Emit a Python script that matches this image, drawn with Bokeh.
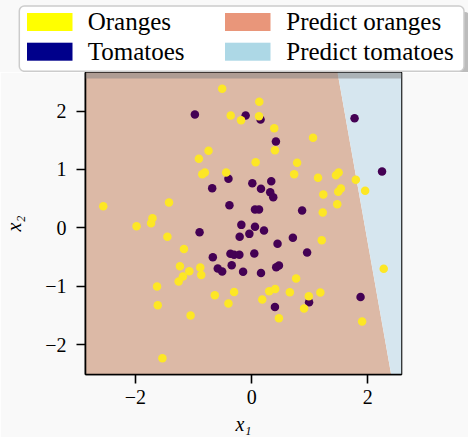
import numpy as np
from bokeh.plotting import figure
from bokeh.layouts import column
from bokeh.models import Range1d, BoxAnnotation, FixedTicker, Div
from bokeh.embed import file_html
from bokeh.resources import INLINE

# ---- data ----
oranges_x1 = [-0.507, -0.360, -0.182, -0.742, -0.908, -0.439, -0.805, -0.850, -2.554, -1.422,
              -1.707, -1.731, -1.981, 0.132, 0.127, 0.389, 1.057, 0.401, 0.069, 0.783,
              0.732, 1.143, 1.498, 1.452, 1.794, 1.954, 1.537, 1.491, 1.234, 1.474,
              1.224, -1.450, -1.165, -1.234, -0.884, -1.073, -1.183, -0.867, -1.256, -1.628,
              -0.634, -0.302, -0.399, -1.616, -1.051, -1.536, 1.207, 2.274, 0.766, 0.303,
              0.406, 0.658, 1.183, 0.984, 0.183, 0.903, 0.470, 1.902]
oranges_x2 = [2.380, 1.923, 1.842, 1.318, 1.182, 0.947, 0.947, 0.918, 0.370, 0.433,
              0.164, 0.079, 0.027, 2.158, 1.911, 1.705, 1.541, 1.329, 1.123, 1.113,
              0.918, 0.856, 0.947, 0.901, 0.822, 0.634, 0.673, 0.616, 0.570, 0.404,
              0.262, -0.154, -0.360, -0.658, -0.680, -0.743, -0.834, -0.805, -0.920, -1.005,
              -1.154, -1.096, -1.296, -1.325, -1.502, -2.233, -0.212, -0.702, -0.868, -1.086,
              -1.045, -1.103, -1.108, -1.171, -1.228, -1.382, -1.548, -1.604]
tomatoes_x1 = [-0.977, -0.103, 0.154, -0.399, -0.679, 0.012, -0.382, -0.177, -0.896, 1.772,
               0.418, 0.338, 0.161, 0.320, 0.372, 2.245, 0.869, 0.058, 0.127, 0.058,
               0.213, -0.206, -0.039, -0.668, -0.365, -0.302, -0.211, -0.583, -0.507, -0.343,
               -0.147, 0.710, 0.446, 0.955, 0.046, 0.470, 0.423, 0.161, 0.989, 1.875, 0.401]
tomatoes_x2 = [1.940, 1.923, 1.854, 0.839, 0.678, 0.764, 0.387, 0.051, -0.075, 1.877,
               1.478, 0.798, 0.668, 0.610, 0.524, 0.964, 0.296, 0.313, 0.313, 0.017,
               -0.046, -0.154, -0.103, -0.503, -0.445, -0.462, -0.462, -0.697, -0.748, -0.640,
               -0.753, -0.171, -0.274, -0.423, -0.440, -0.646, -0.675, -0.771, -1.274, -1.182, -1.353]

# linear classifier: w1*x1 + w2*x2 + b > 0 -> tomatoes
boundary_w = [1.0, 0.1785]
boundary_b = -1.954

x_lim = (-2.86, 2.58)
y_lim = (-2.51, 2.659)
x_ticks = [-2, 0, 2]
y_ticks = [-2, -1, 0, 1, 2]
tick_text = {-2: "\u22122", -1: "\u22121", 0: "0", 1: "1", 2: "2"}
legend_labels = ["Oranges", "Tomatoes", "Predict oranges", "Predict tomatoes"]
legend_colors = ["#ffff00", "#00008b", "#e9967a", "#add8e6"]

ORANGE_POINT = "#fde725"
TOMATO_POINT = "#440154"
ORANGE_REGION = "#dcb9a6"
TOMATO_REGION = "#d6e6ef"
BG = "#f9f9f9"
FONT = "Liberation Serif"
W = 468
LEG_H = 72

# ---------------- main plot ----------------
p = figure(width=W, height=437 - LEG_H, x_range=Range1d(*x_lim), y_range=Range1d(*y_lim),
           output_backend="svg", toolbar_location=None,
           min_border_left=83, min_border_right=67, min_border_top=0, min_border_bottom=63,
           border_fill_color=BG, background_fill_color="white")
p.grid.visible = False
p.outline_line_color = "black"
p.outline_line_width = 1.6

# decision regions from the linear boundary
yy = np.array(y_lim)
xb = -(boundary_w[1] * yy + boundary_b) / boundary_w[0]
p.harea(x1=[x_lim[0]] * 2, x2=xb, y=yy, fill_color=ORANGE_REGION)
p.harea(x1=xb, x2=[x_lim[1]] * 2, y=yy, fill_color=TOMATO_REGION)

p.scatter(tomatoes_x1, tomatoes_x2, size=8.5, fill_color=TOMATO_POINT, line_color=None)
p.scatter(oranges_x1, oranges_x2, size=8.5, fill_color=ORANGE_POINT, line_color=None)

# legend shadow falling onto the top of the axes
p.add_layout(BoxAnnotation(bottom=296, bottom_units="screen",
                           fill_color="#808080", fill_alpha=0.5, line_color=None))

for ax, ticks, lab in ((p.xaxis, x_ticks, "x\u2081"), (p.yaxis, y_ticks, "x\u2082")):
    ax.ticker = FixedTicker(ticks=ticks)
    ax.major_label_overrides = {k: tick_text[k] for k in ticks}
    ax.axis_line_width = 1.6
    ax.major_tick_line_width = 1.6
    ax.major_tick_out = 9
    ax.major_tick_in = 0
    ax.minor_tick_out = 0
    ax.minor_tick_in = 0
    ax.major_label_text_font = FONT
    ax.major_label_text_font_size = "20px"
    ax.major_label_text_color = "black"
    ax.axis_label = lab
    ax.axis_label_text_font = FONT
    ax.axis_label_text_font_size = "20px"
    ax.axis_label_text_font_style = "italic"
    ax.axis_label_text_color = "black"
p.xaxis.major_label_standoff = 6
p.xaxis.axis_label_standoff = 6
p.yaxis.major_label_standoff = 10
p.yaxis.axis_label_standoff = 17
p.yaxis.major_label_orientation = "horizontal"

# ---------------- legend strip (inline SVG, real text) ----------------
text_style = f"font-family:'{FONT}',serif;font-size:25px;font-style:normal;font-weight:normal;fill:black"
parts = [f'<svg xmlns="http://www.w3.org/2000/svg" width="{W}" height="{LEG_H}" style="display:block">',
         f'<rect x="0" y="0" width="{W}" height="{LEG_H}" fill="{BG}"/>',
         '<rect x="25.3" y="12" width="444.7" height="65.3" rx="5" fill="#808080" fill-opacity="0.5"/>',
         '<rect x="19.3" y="6" width="444.7" height="65.3" rx="5" fill="white" stroke="#cccccc" stroke-width="1.5"/>']
for i, (lab, col) in enumerate(zip(legend_labels, legend_colors)):
    c, r = divmod(i, 2)
    sx = 27 + c * 198
    sy = 13 + r * 29.7
    tx = 87.7 + c * 198.6
    ty = 30.4 + r * 29.2
    parts.append(f'<rect x="{sx}" y="{sy:.1f}" width="45.5" height="18" fill="{col}"/>')
    parts.append(f'<text x="{tx:.1f}" y="{ty:.1f}" style="{text_style}">{lab}</text>')
parts.append('</svg>')
legend_div = Div(text="".join(parts), width=W, height=LEG_H, margin=0,
                 styles={"font-family": f"'{FONT}', serif"})

layout = column(legend_div, p, spacing=0)
open("out.html", "w").write(file_html(layout, INLINE))
